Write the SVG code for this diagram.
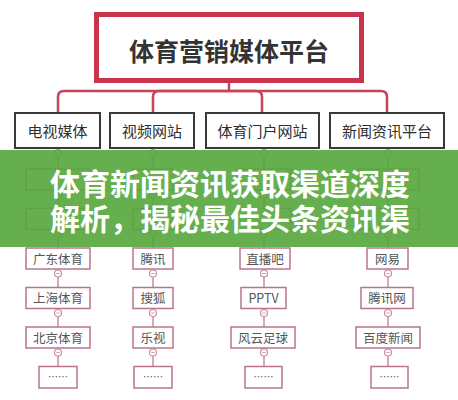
<svg xmlns="http://www.w3.org/2000/svg" width="458" height="400" viewBox="0 0 458 400">
<defs>
<style>
text{font-family:"Noto Sans CJK SC","Noto Sans",sans-serif}
.title{font-size:25px;font-weight:bold;fill:#333;text-anchor:middle}
.l2 rect{fill:#fff;stroke:#3a3a3a;stroke-width:2}
.l2 text{font-size:15px;fill:#2e2e2e;text-anchor:middle}
.l3 rect{fill:#fff;stroke:#b8768c;stroke-width:1.5}
.l3 text{font-size:12.5px;fill:#555;text-anchor:middle}
.bus{fill:none;stroke:#c8445a;stroke-width:2.5}
.col{fill:none;stroke:#c98ea0;stroke-width:1.5}
.banner{font-size:30px;font-weight:bold;fill:#fff}
</style>
<g id="knob"><circle r="3.5" fill="#fff" stroke="#c98ea0" stroke-width="1.2"/><path d="M-1.8,0 H1.8" fill="none" stroke="#c98ea0" stroke-width="0.8"/></g>
</defs>
<rect width="458" height="400" fill="#fff"/>

<g id="connectors">
<path class="bus" d="M229,83 V91"/>
<path class="bus" d="M58,113 V97 Q58,91 64,91 H381 Q387,91 387,97 V113"/>
<path class="bus" d="M153,113 V97 Q153,91 159,91 H256 Q262,91 262,97 V113"/>
<path class="col" d="M58,148 V367"/>
<path class="col" d="M153,148 V367"/>
<path class="col" d="M264,148 V367"/>
<path class="col" d="M388,148 V367"/>
</g>

<g id="root">
<rect x="96.5" y="14.5" width="265" height="66" fill="#fff" stroke="#c8334d" stroke-width="5"/>
<text class="title" x="229" y="61">体育营销媒体平台</text>
</g>

<g id="tv" class="l2"><rect x="15" y="113" width="85" height="35"/><text x="57.5" y="137">电视媒体</text></g>
<g id="video" class="l2"><rect x="110" y="113" width="84" height="35"/><text x="152" y="137">视频网站</text></g>
<g id="portal" class="l2"><rect x="206" y="113" width="113" height="35"/><text x="262.5" y="137">体育门户网站</text></g>
<g id="news" class="l2"><rect x="330" y="113" width="114" height="35"/><text x="387" y="137">新闻资讯平台</text></g>

<g id="hidden-rows" class="l3">
<rect x="26" y="169" width="64" height="21"/><rect x="26" y="208.5" width="64" height="21"/>
<rect x="133" y="169" width="40" height="21"/><rect x="133" y="208.5" width="40" height="21"/>
<rect x="237" y="169" width="54" height="21"/><rect x="237" y="208.5" width="54" height="21"/>
<rect x="358" y="169" width="61" height="21"/><rect x="358" y="208.5" width="61" height="21"/>
</g>

<g id="c1" class="l3">
<g id="gd"><rect x="26" y="248" width="64" height="21"/><text x="58" y="263.5">广东体育</text></g>
<g id="sh"><rect x="26" y="287.5" width="64" height="21"/><text x="58" y="303">上海体育</text></g>
<g id="bj"><rect x="26" y="327" width="64" height="21"/><text x="58" y="342.5">北京体育</text></g>
<g id="c1more"><rect x="39" y="366.5" width="38" height="21.5"/><text x="58" y="381" style="font-size:10px">……</text></g>
</g>
<g id="c2" class="l3">
<g id="tx"><rect x="133" y="248" width="40" height="21"/><text x="153" y="263.5">腾讯</text></g>
<g id="sohu"><rect x="133" y="287.5" width="40" height="21"/><text x="153" y="303">搜狐</text></g>
<g id="letv"><rect x="133" y="327" width="40" height="21"/><text x="153" y="342.5">乐视</text></g>
<g id="c2more"><rect x="134" y="366.5" width="38" height="21.5"/><text x="153" y="381" style="font-size:10px">……</text></g>
</g>
<g id="c3" class="l3">
<g id="zbb"><rect x="240" y="248" width="50" height="21"/><text x="265" y="263.5">直播吧</text></g>
<g id="pptv"><rect x="241" y="287.5" width="45" height="21"/><text x="263.5" y="303">PPTV</text></g>
<g id="fy"><rect x="231" y="327" width="64" height="21"/><text x="263" y="342.5">风云足球</text></g>
<g id="c3more"><rect x="245" y="366.5" width="37" height="21.5"/><text x="263.5" y="381" style="font-size:10px">……</text></g>
</g>
<g id="c4" class="l3">
<g id="wy"><rect x="367" y="248" width="41" height="21"/><text x="387.5" y="263.5">网易</text></g>
<g id="txw"><rect x="361" y="287.5" width="52" height="21"/><text x="387" y="303">腾讯网</text></g>
<g id="bd"><rect x="356" y="327" width="64" height="21"/><text x="388" y="342.5">百度新闻</text></g>
<g id="c4more"><rect x="371" y="366.5" width="37" height="21.5"/><text x="389.5" y="381" style="font-size:10px">……</text></g>
</g>

<g id="knobs">
<g transform="translate(58,0)"><use href="#knob" y="153"/><use href="#knob" y="194.5"/><use href="#knob" y="234"/><use href="#knob" y="273.5"/><use href="#knob" y="313"/><use href="#knob" y="352.5"/></g>
<g transform="translate(153,0)"><use href="#knob" y="153"/><use href="#knob" y="194.5"/><use href="#knob" y="234"/><use href="#knob" y="273.5"/><use href="#knob" y="313"/><use href="#knob" y="352.5"/></g>
<g transform="translate(264,0)"><use href="#knob" y="153"/><use href="#knob" y="194.5"/><use href="#knob" y="234"/><use href="#knob" y="273.5"/><use href="#knob" y="313"/><use href="#knob" y="352.5"/></g>
<g transform="translate(388,0)"><use href="#knob" y="153"/><use href="#knob" y="194.5"/><use href="#knob" y="234"/><use href="#knob" y="273.5"/><use href="#knob" y="313"/><use href="#knob" y="352.5"/></g>
</g>

<g id="banner">
<rect x="0" y="150" width="458" height="97" fill="#55a63b" fill-opacity="0.9"/>
<text class="banner"><tspan x="50" y="195">体育新闻资讯获取渠道深度</tspan><tspan x="50" y="230">解析，揭秘最佳头条资讯渠</tspan></text>
</g>
</svg>
